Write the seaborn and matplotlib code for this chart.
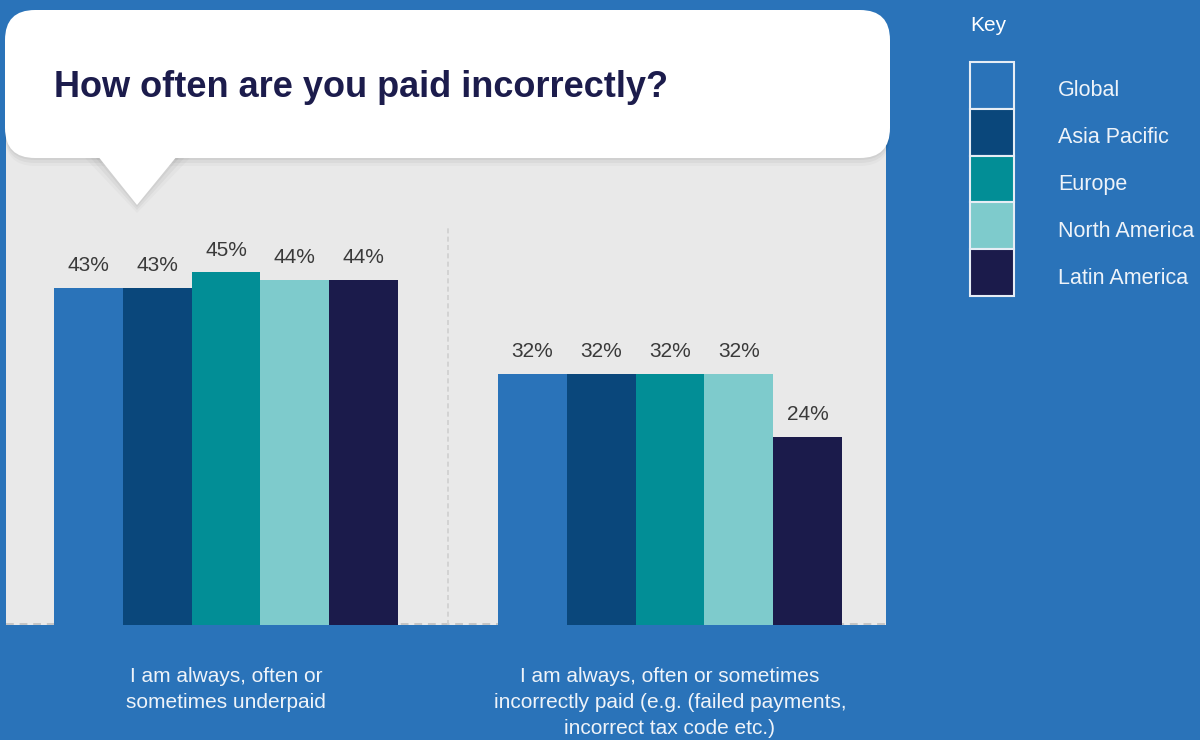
import numpy as np
import pandas as pd
import matplotlib.pyplot as plt
import seaborn as sns
from matplotlib.patches import FancyBboxPatch, Polygon, Rectangle

sns.set_theme(style='white')
plt.rcParams['font.family'] = ['Liberation Sans', 'DejaVu Sans']

# data
categories = ['I am always, often or\nsometimes underpaid',
              'I am always, often or sometimes\nincorrectly paid (e.g. (failed payments,\nincorrect tax code etc.)']
regions = ['Global', 'Asia Pacific', 'Europe', 'North America', 'Latin America']
global_vals = [43, 32]
asia_pacific_vals = [43, 32]
europe_vals = [45, 32]
north_america_vals = [44, 32]
latin_america_vals = [44, 24]
colors = ['#2a73b9', '#0a477b', '#028e96', '#7ecbcc', '#1b1b4b']

df = pd.DataFrame({
    'category': categories * len(regions),
    'region': np.repeat(regions, len(categories)),
    'value': global_vals + asia_pacific_vals + europe_vals + north_america_vals + latin_america_vals,
})

BG = '#2a73b9'
W, H = 1200, 740


def fx(px):
    return px / W


def fy(py):
    return 1 - py / H


def inch(px, py):
    # pixel position (top-left origin) -> inches for dpi_scale_trans
    return (px / 100, (H - py) / 100)


fig = plt.figure(figsize=(12, 7.4), dpi=100, facecolor=BG)

# main panel
ax = fig.add_axes([fx(6), fy(625), fx(886) - fx(6), fy(100) - fy(625)])
ax.set_facecolor('#e9e9e9')
sns.barplot(data=df, x='category', y='value', hue='region', hue_order=regions,
            palette=colors, width=0.775, gap=0, saturation=1, linewidth=0,
            errorbar=None, legend=False, ax=ax, zorder=3)
ax.set_xlim(-0.4955, 1.4865)
px_per_pct = 7.84
ax.set_ylim(0, 525 / px_per_pct)

for container in ax.containers:
    for bar in container:
        h = bar.get_height()
        ax.annotate(f'{h:.0f}%', (bar.get_x() + bar.get_width() / 2, h),
                    xytext=(0, 12), textcoords='offset points',
                    ha='center', va='baseline', fontsize=15, color='#3a3a3a', zorder=4)

# dashed baseline and group divider, sitting behind the bars
ax.axhline(1.2 / px_per_pct, color='#c4c4c4', ls=(0, (4, 3)), lw=1.4, zorder=1)
ax.vlines(0.5, 0, (625 - 228) / px_per_pct, colors='#cfcfcf',
          linestyles=(0, (3, 2)), lw=1.2, zorder=1)

for s in ax.spines.values():
    s.set_visible(False)
ax.set_yticks([])
ax.set_xlabel('')
ax.set_ylabel('')
ax.set_xticks(range(len(categories)))
ax.set_xticklabels(categories, linespacing=1.47)
ax.tick_params(axis='x', length=0, pad=30, labelsize=15, labelcolor='#eef3f9')

# speech bubble title
tr = fig.dpi_scale_trans
for off, a in [(8, 0.025), (5, 0.035), (2, 0.045)]:
    fig.add_artist(FancyBboxPatch(inch(5, 158 + off), 8.85, 1.48,
                                  boxstyle='round,pad=0,rounding_size=0.3',
                                  transform=tr, facecolor='black', edgecolor='none',
                                  alpha=a, zorder=5))
    fig.add_artist(Polygon([inch(93 - off, 150 + off), inch(182 + off, 150 + off), inch(137, 205 + off)],
                           closed=True, transform=tr, facecolor='black',
                           edgecolor='none', alpha=a, zorder=5))
fig.add_artist(FancyBboxPatch(inch(5, 158), 8.85, 1.48,
                              boxstyle='round,pad=0,rounding_size=0.3',
                              transform=tr, facecolor='white', edgecolor='none', zorder=6))
fig.add_artist(Polygon([inch(93, 150), inch(182, 150), inch(137, 205)], closed=True,
                       transform=tr, facecolor='white', edgecolor='none', zorder=6))
fig.text(fx(54), fy(97), 'How often are you paid incorrectly?', fontsize=26,
         fontweight='bold', color='#1c1c4c', va='baseline', zorder=7)

# key
fig.text(fx(970), fy(31), 'Key', color='white', fontsize=15, va='baseline')
axk = fig.add_axes([fx(970), fy(296), fx(1014) - fx(970), fy(62) - fy(296)])
axk.set_xlim(0, 1)
axk.set_ylim(len(regions), 0)
axk.axis('off')
for i, (name, col) in enumerate(zip(regions, colors)):
    axk.add_patch(Rectangle((0, i), 1, 1, facecolor=col, edgecolor='#e6edf5',
                            lw=1.5, clip_on=False))
    fig.text(fx(1058), fy(96 + 47 * i), name, color='#eef3f9', fontsize=15.5, va='baseline')

fig.savefig('out.png', dpi=100, facecolor=BG)
